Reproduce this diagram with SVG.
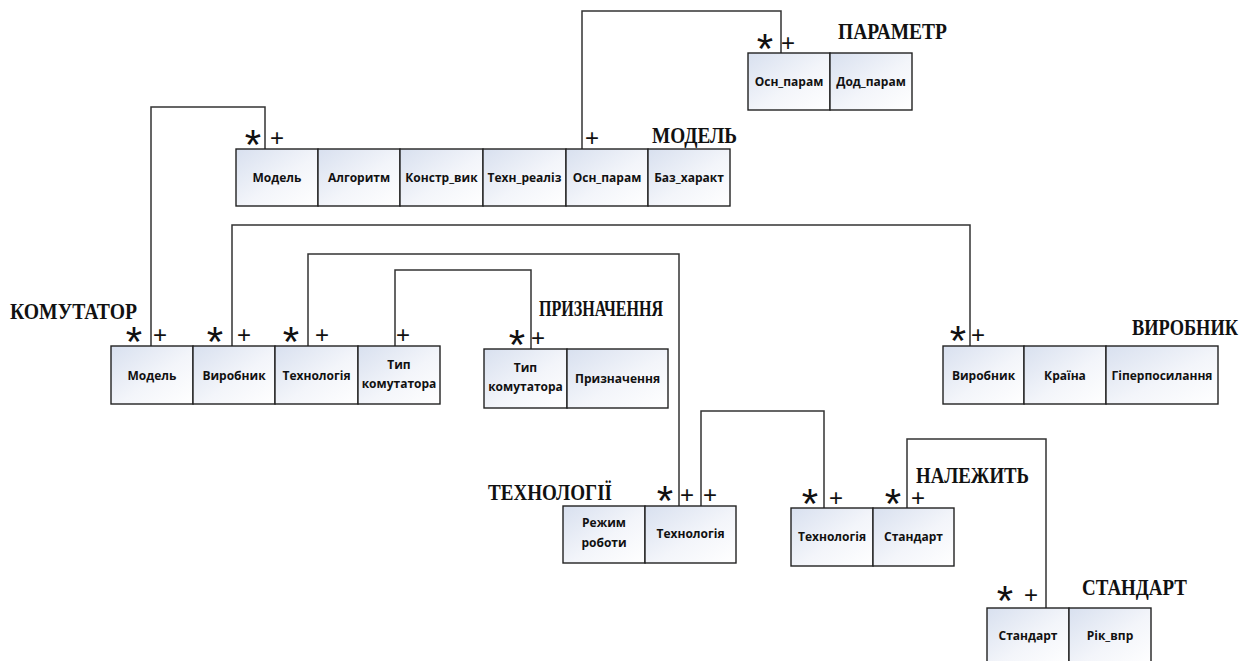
<svg xmlns="http://www.w3.org/2000/svg" width="1250" height="661" viewBox="0 0 1250 661">
<defs>
<linearGradient id="cg" x1="0" y1="0" x2="1" y2="1">
<stop offset="0" stop-color="#d8e0ef"/>
<stop offset="0.55" stop-color="#f3f5fa"/>
<stop offset="1" stop-color="#ffffff"/>
</linearGradient>
</defs>
<style>
.cell{fill:url(#cg);stroke:#222;stroke-width:1.4}
.ct{font-family:"Open Sans","DejaVu Sans",sans-serif;font-weight:700;font-size:12px;fill:#111;text-anchor:middle}
.lbl{font-family:"Liberation Serif","Times New Roman",serif;font-weight:700;font-size:24px;fill:#111}
.star{font-family:"Liberation Sans",Arial,sans-serif;font-size:42px;fill:#111;text-anchor:middle}
.plus{font-family:"Liberation Sans",Arial,sans-serif;font-size:24px;fill:#111;text-anchor:middle}
.conn{fill:none;stroke:#333;stroke-width:1.5}
</style>
<rect width="1250" height="661" fill="#ffffff"/>

<g id="connectors">
<polyline class="conn" points="781,53 781,11 582,11 582,149"/>
<polyline class="conn" points="265,149 265,107 151,107 151,346"/>
<polyline class="conn" points="232,346 232,225 970,225 970,346"/>
<polyline class="conn" points="308,346 308,254 679,254 679,506"/>
<polyline class="conn" points="395,346 395,270 531,270 531,349"/>
<polyline class="conn" points="701,506 701,411 824,411 824,508"/>
<polyline class="conn" points="907,508 907,439 1046,439 1046,608"/>
</g>

<g id="parametr">
<rect class="cell" x="748" y="53" width="82" height="57"/>
<rect class="cell" x="830" y="53" width="82" height="57"/>
<text class="ct" x="789" y="86">Осн_парам</text>
<text class="ct" x="871" y="86">Дод_парам</text>
<text class="lbl" x="838" y="39" textLength="109" lengthAdjust="spacingAndGlyphs">ПАРАМЕТР</text>
<text class="star" x="765" y="63">*</text>
<text class="plus" x="788" y="51">+</text>
</g>

<g id="model">
<rect class="cell" x="236" y="149" width="82" height="57"/>
<rect class="cell" x="318" y="149" width="82" height="57"/>
<rect class="cell" x="400" y="149" width="83" height="57"/>
<rect class="cell" x="483" y="149" width="83" height="57"/>
<rect class="cell" x="566" y="149" width="82" height="57"/>
<rect class="cell" x="648" y="149" width="82" height="57"/>
<text class="ct" x="277" y="182">Модель</text>
<text class="ct" x="359" y="182">Алгоритм</text>
<text class="ct" x="441.5" y="182">Констр_вик</text>
<text class="ct" x="524.5" y="182">Техн_реаліз</text>
<text class="ct" x="607" y="182">Осн_парам</text>
<text class="ct" x="689" y="182">Баз_характ</text>
<text class="lbl" x="652" y="143" textLength="85" lengthAdjust="spacingAndGlyphs">МОДЕЛЬ</text>
<text class="star" x="253" y="159">*</text>
<text class="plus" x="277" y="146">+</text>
<text class="plus" x="592" y="146">+</text>
</g>

<g id="komutator">
<rect class="cell" x="111" y="346" width="82" height="58"/>
<rect class="cell" x="193" y="346" width="82" height="58"/>
<rect class="cell" x="275" y="346" width="83" height="58"/>
<rect class="cell" x="358" y="346" width="82" height="58"/>
<text class="ct" x="152" y="380">Модель</text>
<text class="ct" x="234" y="380">Виробник</text>
<text class="ct" x="316.5" y="380">Технологія</text>
<text class="ct" x="399" y="369">Тип</text>
<text class="ct" x="399" y="388">комутатора</text>
<text class="lbl" x="10" y="319" textLength="127" lengthAdjust="spacingAndGlyphs">КОМУТАТОР</text>
<text class="star" x="134" y="356">*</text>
<text class="plus" x="160" y="343">+</text>
<text class="star" x="215" y="356">*</text>
<text class="plus" x="244" y="343">+</text>
<text class="star" x="291" y="356">*</text>
<text class="plus" x="322" y="343">+</text>
<text class="plus" x="403" y="343">+</text>
</g>

<g id="pryznachennia">
<rect class="cell" x="484" y="349" width="83" height="59"/>
<rect class="cell" x="567" y="349" width="101" height="59"/>
<text class="ct" x="525.5" y="372">Тип</text>
<text class="ct" x="525.5" y="391">комутатора</text>
<text class="ct" x="617.5" y="383">Призначення</text>
<text class="lbl" x="539" y="316" font-size="21" textLength="124" lengthAdjust="spacingAndGlyphs">ПРИЗНАЧЕННЯ</text>
<text class="star" x="517" y="359">*</text>
<text class="plus" x="538" y="346">+</text>
</g>

<g id="vyrobnyk">
<rect class="cell" x="943" y="346" width="81" height="58"/>
<rect class="cell" x="1024" y="346" width="82" height="58"/>
<rect class="cell" x="1106" y="346" width="112" height="58"/>
<text class="ct" x="983.5" y="380">Виробник</text>
<text class="ct" x="1065" y="380">Країна</text>
<text class="ct" x="1162" y="380">Гіперпосилання</text>
<text class="lbl" x="1132" y="335" font-size="22" textLength="106" lengthAdjust="spacingAndGlyphs">ВИРОБНИК</text>
<text class="star" x="958" y="355">*</text>
<text class="plus" x="978" y="343">+</text>
</g>

<g id="tekhnolohii">
<rect class="cell" x="563" y="506" width="82" height="57"/>
<rect class="cell" x="645" y="506" width="91" height="57"/>
<text class="ct" x="604" y="527">Режим</text>
<text class="ct" x="604" y="547">роботи</text>
<text class="ct" x="690.5" y="538">Технологія</text>
<text class="lbl" x="488" y="500" textLength="124" lengthAdjust="spacingAndGlyphs">ТЕХНОЛОГІЇ</text>
<text class="star" x="665" y="515">*</text>
<text class="plus" x="687" y="503">+</text>
<text class="plus" x="710" y="503">+</text>
</g>

<g id="nalezhyt">
<rect class="cell" x="791" y="508" width="82" height="58"/>
<rect class="cell" x="873" y="508" width="81" height="58"/>
<text class="ct" x="832" y="541">Технологія</text>
<text class="ct" x="913.5" y="541">Стандарт</text>
<text class="lbl" x="916" y="483" textLength="113" lengthAdjust="spacingAndGlyphs">НАЛЕЖИТЬ</text>
<text class="star" x="810" y="518">*</text>
<text class="plus" x="836" y="506">+</text>
<text class="star" x="893" y="518">*</text>
<text class="plus" x="918" y="506">+</text>
</g>

<g id="standart">
<rect class="cell" x="987" y="608" width="82" height="58"/>
<rect class="cell" x="1069" y="608" width="82" height="58"/>
<text class="ct" x="1028" y="640">Стандарт</text>
<text class="ct" x="1110" y="640">Рік_впр</text>
<text class="lbl" x="1082" y="595" textLength="105" lengthAdjust="spacingAndGlyphs">СТАНДАРТ</text>
<text class="star" x="1005" y="615">*</text>
<text class="plus" x="1031" y="603">+</text>
</g>
</svg>
